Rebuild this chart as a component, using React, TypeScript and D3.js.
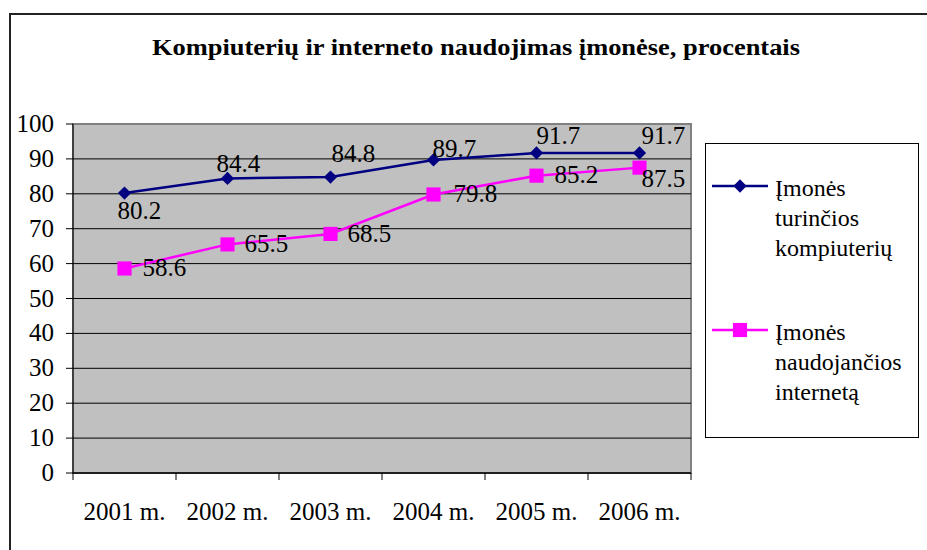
import * as d3 from "d3";

const years = ["2001 m.", "2002 m.", "2003 m.", "2004 m.", "2005 m.", "2006 m."];
const computers = [80.2, 84.4, 84.8, 89.7, 91.7, 91.7];
const internet = [58.6, 65.5, 68.5, 79.8, 85.2, 87.5];
const seriesNames = [
  ["Įmonės", "turinčios", "kompiuterių"],
  ["Įmonės", "naudojančios", "internetą"],
];
const title = "Kompiuterių ir interneto naudojimas įmonėse, procentais";

// label offsets relative to the point (dx to text start, dy to baseline)
const computerLabelOffsets = [[-7, 26], [-11, -6], [1, -15], [-1, -3], [0, -9], [2, -9]];
const internetLabelOffsets = [[18, 8], [17, 8], [17, 8], [20, 8], [18, 7], [2, 19]];

const FONT = "'Liberation Serif', 'Times New Roman', serif";

function T(props: {
  x: number;
  y: number;
  size: number;
  anchor?: string;
  children: string;
}) {
  return (
    <text
      x={props.x}
      y={props.y}
      fontFamily={FONT}
      fontSize={props.size}
      textAnchor={props.anchor ?? "start"}
      fill="#000"
    >
      {props.children}
    </text>
  );
}

export default function App() {
  const width = 927;
  const height = 550;
  const plot = { left: 73, right: 691, top: 124, bottom: 473 };

  const x = d3.scaleBand().domain(years).range([plot.left, plot.right]).padding(0);
  const y = d3.scaleLinear().domain([0, 100]).range([plot.bottom, plot.top]);
  const cx = (i: number) => x(years[i])! + x.bandwidth() / 2;

  const line = d3
    .line<number>()
    .x((_, i) => cx(i))
    .y((d) => y(d));

  const diamond = d3.symbol(d3.symbolSquare, 88)()!;
  const square = d3.symbol(d3.symbolSquare, 200)()!;

  const yTicks = y.ticks(10);
  const xTickPos = [...years.map((c) => x(c)!), plot.right];

  return (
    <svg
      width={width}
      height={height}
      style={{ position: "absolute", left: 0, top: 0, background: "#fff" }}
    >
      {/* outer chart border */}
      <path d={`M10,${height + 5} V14 H${width + 5}`} fill="none" stroke="#222" strokeWidth={2} />

      <text
        x={476}
        y={55}
        textAnchor="middle"
        fontFamily={FONT}
        fontSize={24}
        fontWeight="bold"
        textLength={648}
        lengthAdjust="spacingAndGlyphs"
      >
        {title}
      </text>

      {/* plot area */}
      <rect
        x={plot.left}
        y={plot.top}
        width={plot.right - plot.left}
        height={plot.bottom - plot.top}
        fill="#c0c0c0"
        stroke="#808080"
        strokeWidth={2}
      />
      {yTicks.map((t) => (
        <g key={t}>
          {t > 0 && t < 100 && (
            <line x1={plot.left} x2={plot.right} y1={y(t)} y2={y(t)} stroke="#000" strokeWidth={1} />
          )}
          <line x1={plot.left - 7} x2={plot.left} y1={y(t)} y2={y(t)} stroke="#000" strokeWidth={1} />
          <T x={54} y={y(t) + 8} size={25} anchor="end">
            {String(t)}
          </T>
        </g>
      ))}
      <line x1={plot.left} x2={plot.left} y1={plot.top} y2={plot.bottom} stroke="#000" strokeWidth={1} />
      <line x1={plot.left} x2={plot.right} y1={plot.bottom} y2={plot.bottom} stroke="#000" strokeWidth={1.5} />
      {xTickPos.map((p, i) => (
        <line key={i} x1={p} x2={p} y1={plot.bottom} y2={plot.bottom + 7} stroke="#000" strokeWidth={1} />
      ))}
      {years.map((c, i) => (
        <T key={c} x={cx(i)} y={520} size={25} anchor="middle">
          {c}
        </T>
      ))}

      {/* series */}
      <path d={line(computers)!} fill="none" stroke="#000080" strokeWidth={2.5} />
      <path d={line(internet)!} fill="none" stroke="#ff00ff" strokeWidth={2.5} />
      {computers.map((v, i) => (
        <path key={i} d={diamond} transform={`translate(${cx(i)},${y(v)}) rotate(45)`} fill="#000080" />
      ))}
      {internet.map((v, i) => (
        <path key={i} d={square} transform={`translate(${cx(i)},${y(v)})`} fill="#ff00ff" />
      ))}
      {computers.map((v, i) => (
        <T
          key={i}
          x={cx(i) + computerLabelOffsets[i][0]}
          y={y(v) + computerLabelOffsets[i][1]}
          size={25}
        >
          {v.toFixed(1)}
        </T>
      ))}
      {internet.map((v, i) => (
        <T
          key={i}
          x={cx(i) + internetLabelOffsets[i][0]}
          y={y(v) + internetLabelOffsets[i][1]}
          size={25}
        >
          {v.toFixed(1)}
        </T>
      ))}

      {/* legend */}
      <rect x={705.5} y={143.5} width={213} height={294} fill="#fff" stroke="#000" strokeWidth={1} />
      {seriesNames.map((lines, k) => {
        const ly = k === 0 ? 186 : 330;
        return (
          <g key={k}>
            <line x1={712} x2={768} y1={ly} y2={ly} stroke={k === 0 ? "#000080" : "#ff00ff"} strokeWidth={2.5} />
            <path
              d={k === 0 ? diamond : square}
              transform={`translate(740,${ly})${k === 0 ? " rotate(45)" : ""}`}
              fill={k === 0 ? "#000080" : "#ff00ff"}
            />
            {lines.map((s, j) => (
              <T key={j} x={775} y={ly + 10 + j * 30} size={24}>
                {s}
              </T>
            ))}
          </g>
        );
      })}
    </svg>
  );
}
